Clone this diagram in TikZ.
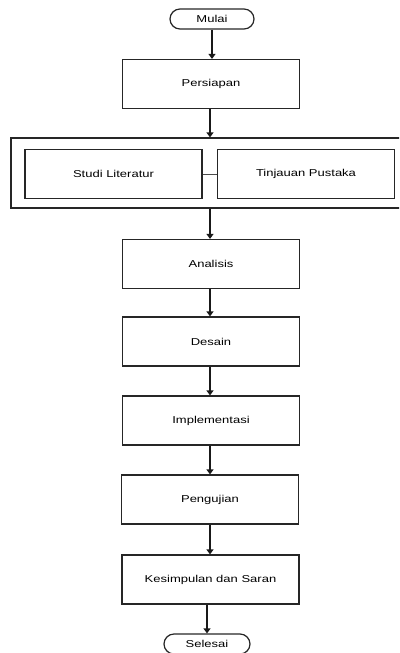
\documentclass[tikz,border=0pt]{standalone}
\usepackage{fontspec}
\setmainfont{Liberation Sans}
\usetikzlibrary{arrows.meta}
\newcommand{\wt}[1]{\scalebox{1.3}[1]{#1}}
\begin{document}
\begin{tikzpicture}[x=1pt,y=-1pt,
  box/.style={draw=black!85, line width=1.2pt, minimum width=177pt, minimum height=49pt, inner sep=0pt, font=\fontsize{10}{12}\selectfont},
  term/.style={draw=black!85, line width=1.2pt, rounded corners=10pt, minimum width=84pt, minimum height=20pt, inner sep=0pt, font=\fontsize{10}{12}\selectfont},
  arr/.style={-{Triangle[length=5pt,width=7pt]}, line width=1.2pt, draw=black!90},
  link/.style={line width=1pt, draw=black!70}]
\useasboundingbox (0,0) rectangle (399,653);
\clip (0,0) rectangle (399,653);
\node[term] (mulai) at (212,19) {\wt{Mulai}};
\node[box] (persiapan) at (211,84) {\wt{Persiapan}};
\node[draw=black!85, line width=1.2pt, minimum width=400pt, minimum height=70pt, inner sep=0pt] (outer) at (211,173) {};
\node[box] (studi) at (113.5,174) {\wt{Studi Literatur}};
\node[box] (tinjauan) at (306,174) {\wt{Tinjauan Pustaka}};
\node[box] (analisis) at (211,264) {\wt{Analisis}};
\node[box] (desain) at (211,341.5) {\wt{Desain}};
\node[box] (impl) at (211,420.5) {\wt{Implementasi}};
\node[box] (uji) at (210,499.5) {\wt{Pengujian}};
\node[box] (kesimpulan) at (210.5,579.5) {\wt{Kesimpulan dan Saran}};
\node[term, minimum width=86pt] (selesai) at (207,644) {\wt{Selesai}};
\coordinate (c1) at (210,0);
\draw[arr] (mulai.south) -- (mulai.south |- persiapan.north);
\draw[arr] (persiapan.south -| c1) -- (c1 |- outer.north);
\draw[link] (studi.east) -- (tinjauan.west);
\draw[arr] (outer.south -| c1) -- (c1 |- analisis.north);
\draw[arr] (analisis.south -| c1) -- (c1 |- desain.north);
\draw[arr] (desain.south -| c1) -- (c1 |- impl.north);
\draw[arr] (impl.south -| c1) -- (c1 |- uji.north);
\draw[arr] (uji.south -| c1) -- (c1 |- kesimpulan.north);
\draw[arr] (kesimpulan.south -| selesai.north) -- (selesai.north);
\end{tikzpicture}
\end{document}
